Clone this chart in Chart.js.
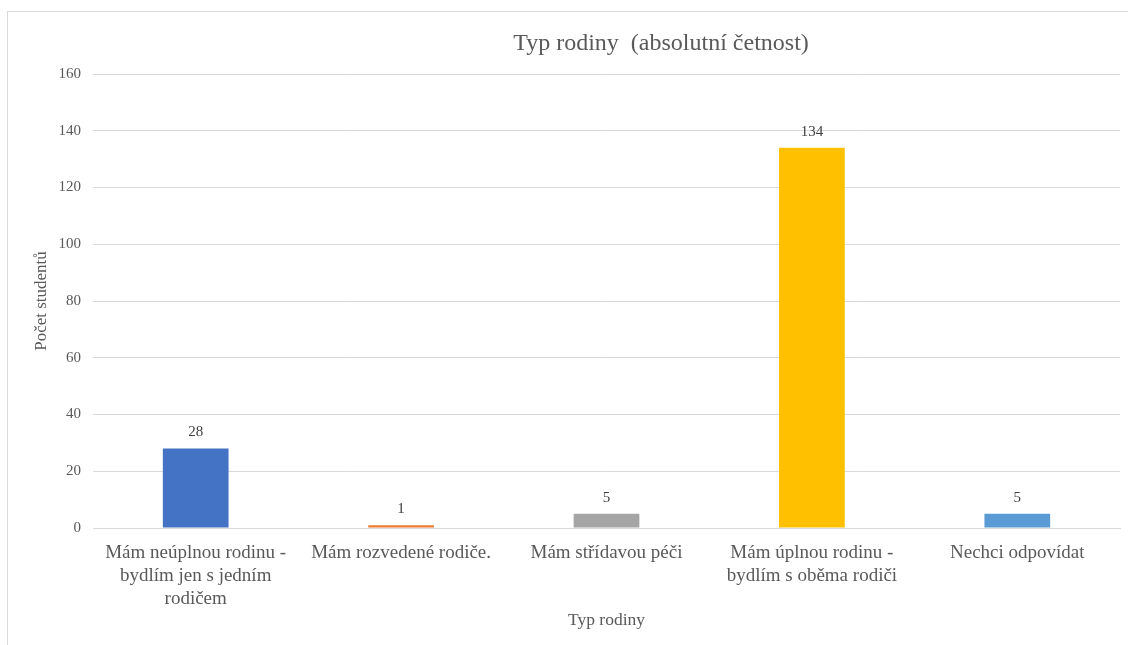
<!DOCTYPE html>
<html>
<head>
<meta charset="utf-8">
<script src="https://cdn.jsdelivr.net/npm/chart.js@4"></script>
<style>
  body { margin: 0; background: #fff; }
  #frame {
    position: absolute; left: 7px; top: 11px; width: 1125px; height: 640px;
    border-left: 1px solid #d9d9d9; border-top: 1px solid #d9d9d9;
  }
  #wrap { position: absolute; left: 0; top: 0; width: 1128px; height: 645px; }
</style>
</head>
<body>
<div id="frame"></div>
<div id="wrap"><canvas id="chart" width="1128" height="645"></canvas></div>
<script>
const categories = [
  ["Mám neúplnou rodinu -", "bydlím jen s jedním", "rodičem"],
  "Mám rozvedené rodiče.",
  "Mám střídavou péči",
  ["Mám úplnou rodinu -", "bydlím s oběma rodiči"],
  "Nechci odpovídat"
];
const counts = [28, 1, 5, 134, 5];
const barColors = ["#4472C4", "#ED7D31", "#A5A5A5", "#FFC000", "#5B9BD5"];

const serif = "'Liberation Serif', 'Times New Roman', serif";

// value labels above each bar
const valueLabels = {
  id: "valueLabels",
  afterDatasetsDraw(chart) {
    const ctx = chart.ctx;
    const meta = chart.getDatasetMeta(0);
    ctx.save();
    ctx.font = "15px " + serif;
    ctx.fillStyle = "#404040";
    ctx.textAlign = "center";
    ctx.textBaseline = "middle";
    meta.data.forEach((bar, i) => {
      ctx.fillText(String(counts[i]), bar.x, bar.y - 16);
    });
    ctx.restore();
  }
};

// the title in the original sits right of centre
const shiftTitle = {
  id: "shiftTitle",
  afterLayout(chart) {
    if (chart.titleBlock) {
      chart.titleBlock.left += 101;
      chart.titleBlock.right += 101;
    }
  }
};

new Chart(document.getElementById("chart"), {
  type: "bar",
  data: {
    labels: categories,
    datasets: [{
      data: counts,
      backgroundColor: barColors,
      barPercentage: 0.32,
      categoryPercentage: 1
    }]
  },
  options: {
    responsive: false,
    animation: false,
    layout: { padding: { left: 0, right: 8, top: 0, bottom: 0 } },
    plugins: {
      legend: { display: false },
      tooltip: { enabled: false },
      title: {
        display: true,
        text: "Typ rodiny  (absolutní četnost)",
        color: "#595959",
        font: { family: serif, size: 24, weight: "normal", lineHeight: 1.2 },
        padding: { top: 29.6, bottom: 15.6 }
      }
    },
    scales: {
      y: {
        min: 0,
        max: 160,
        ticks: {
          stepSize: 20,
          color: "#595959",
          padding: 12,
          font: { family: serif, size: 15 }
        },
        grid: { color: "#d9d9d9", drawTicks: false },
        border: { display: false },
        title: {
          display: true,
          text: "Počet studentů",
          color: "#595959",
          font: { family: serif, size: 17, lineHeight: 1.2 },
          padding: { top: 31.8, bottom: 0 }
        },
        afterFit(scale) { scale.width = 93; }
      },
      x: {
        ticks: {
          color: "#595959",
          padding: 14,
          maxRotation: 0,
          autoSkip: false,
          font: { family: serif, size: 19, lineHeight: 1.21 }
        },
        grid: { display: false, drawTicks: false },
        border: { display: true, color: "#d9d9d9" },
        title: {
          display: true,
          text: "Typ rodiny",
          color: "#595959",
          font: { family: serif, size: 17.5, lineHeight: 1.2 },
          padding: { top: 0, bottom: 14.5 }
        },
        afterFit(scale) { scale.height = 117; }
      }
    }
  },
  plugins: [valueLabels, shiftTitle]
});
</script>
</body>
</html>
